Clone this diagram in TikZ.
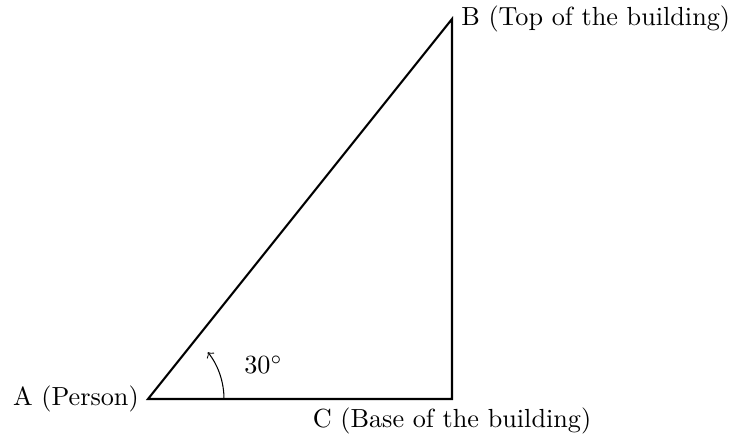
\documentclass[tikz,border=0pt]{standalone}
\begin{document}
\begin{tikzpicture}[x=1.02cm,y=1.02cm]
\useasboundingbox (-1.947,-0.5) rectangle (7.71,5.25);
\tikzset{side/.style={thick}, anglearc/.style={->}}
\coordinate (A) at (0,0);
\coordinate (C) at (4,0);
\coordinate (B) at (4,5);
\draw[side] (A) -- (C) -- (B) -- cycle;
\node[left] (la) at (A) {A (Person)};
\node[right] (lb) at (B) {B (Top of the building)};
\node[below] (lc) at (C) {C (Base of the building)};
\coordinate (arcstart) at (1,0);
\draw[anglearc] (arcstart) arc[start angle=0, end angle=38, radius=1];
\node (ang) at (1.52,0.45) {30$^\circ$};
\end{tikzpicture}
\end{document}
